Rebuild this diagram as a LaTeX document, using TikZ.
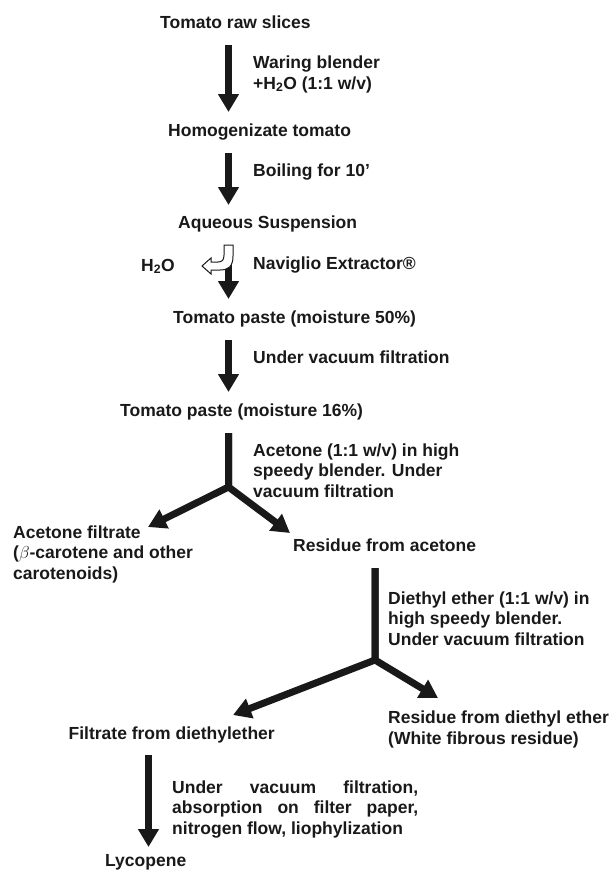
\documentclass[tikz,border=0pt]{standalone}
\usepackage{fontspec}
\setmainfont{Liberation Sans}
\usetikzlibrary{arrows.meta}
\definecolor{ink}{gray}{0.1}
\begin{document}
\begin{tikzpicture}[x=1pt,y=-1pt,
  lbl/.style={font=\bfseries\fontsize{17.5}{20.5}\selectfont, text=ink, inner sep=0pt, align=left, anchor=base west},
  flow/.style={draw=ink, line width=7pt, line join=round, -{Triangle[width=20pt,length=18pt]}},
  hollow/.style={draw=ink, line width=1pt, fill=white, line join=miter}]
\useasboundingbox (0,0) rectangle (614,875);

% texts (multi-line nodes: base = baseline of last line)
\node[lbl] (raw) at (160,29) {Tomato raw slices};
\node[lbl] (waring) at (253,89) {Waring blender\\+H\textsubscript{2}O (1:1 w/v)};
\node[lbl] (homog) at (168,136) {Homogenizate tomato};
\node[lbl] (boil) at (253,176) {Boiling for 10’};
\node[lbl] (aqueous) at (178,228) {Aqueous Suspension};
\node[lbl, anchor=base east] (water) at (175,271) {H\textsubscript{2}O};
\node[lbl] (navig) at (253,269) {Naviglio Extractor®};
\node[lbl] (paste50) at (173,323) {Tomato paste (moisture 50\%)};
\node[lbl] (vac1) at (253,363) {Under vacuum filtration};
\node[lbl] (paste16) at (120,416) {Tomato paste (moisture 16\%)};
\node[lbl] (acetone) at (253,497) {Acetone (1:1 w/v) in high\\speedy blender. Under\\vacuum filtration};
\node[lbl] (acfilt) at (13,579) {Acetone filtrate\\($\beta$-carotene and other\\carotenoids)};
\node[lbl] (resac) at (293,551) {Residue from acetone};
\node[lbl] (diethyl) at (388,645) {Diethyl ether (1:1 w/v) in\\high speedy blender.\\Under vacuum filtration};
\node[lbl] (resdi) at (388,744) {Residue from diethyl ether\\(White fibrous residue)};
\node[lbl, anchor=base east] (filtdi) at (275,739) {Filtrate from diethylether};
\node[lbl, text width=246pt, align=justify] (final) at (172,793) {Under vacuum filtration,\linebreak absorption on filter paper,\linebreak nitrogen flow, liophylization};
\node[lbl] (lyco) at (105,866) {Lycopene};

% arrow end points
\coordinate (a1s) at (228.5,45);  \coordinate (a1e) at (228.5,112);
\coordinate (a2s) at (228.5,153); \coordinate (a2e) at (228.5,205);
\coordinate (a3s) at (228.5,262); \coordinate (a3e) at (228.5,299);
\coordinate (a4s) at (228.5,340); \coordinate (a4e) at (228.5,392);
\coordinate (b1s) at (228.5,433); \coordinate (j1) at (228.5,487);
\coordinate (b1l) at (148,527);   \coordinate (b1r) at (290,533);
\coordinate (b2s) at (375,568);   \coordinate (j2) at (375,660);
\coordinate (b2l) at (233,715);   \coordinate (b2r) at (438,698);
\coordinate (a5s) at (148.5,755); \coordinate (a5e) at (148.5,847);

\draw[flow] (a1s) -- (a1e);
\draw[flow] (a2s) -- (a2e);
\draw[flow] (a3s) -- (a3e);
\draw[flow] (a4s) -- (a4e);
\draw[flow] (b1s) -- (j1) -- (b1l);
\draw[flow] (b1s) -- (j1) -- (b1r);
\draw[flow] (b2s) -- (j2) -- (b2l);
\draw[flow] (b2s) -- (j2) -- (b2r);
\draw[flow] (a5s) -- (a5e);

% hollow curved arrow (water out)
\draw[hollow] (224,245) -- (233,245) -- (233,256)
  .. controls (233,267) and (228,270) .. (220,270) -- (211,270) -- (211,274)
  -- (202,266) -- (211,258) -- (211,262) -- (218,262)
  .. controls (222,262) and (224,260) .. (224,255) -- cycle;
\end{tikzpicture}
\end{document}
